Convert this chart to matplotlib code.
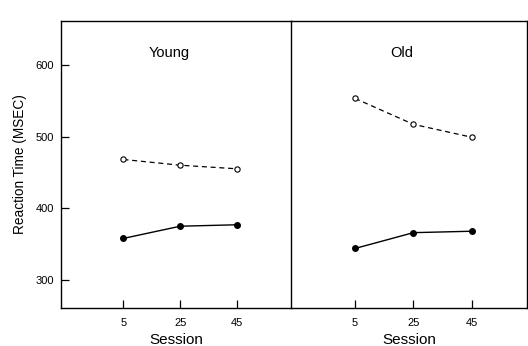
import matplotlib
matplotlib.use('Agg')
import matplotlib.pyplot as plt

plt.rcParams['font.family'] = ['Liberation Sans', 'DejaVu Sans']

sessions = [5, 25, 45]
young_solid = [358, 375, 377]
young_dashed = [468, 460, 455]
old_solid = [344, 366, 368]
old_dashed = [553, 517, 499]

fig = plt.figure(figsize=(5.28, 3.46), dpi=100)
ax1 = fig.add_axes([61/528, 1 - 308/346, 230/528, 287/346])
ax2 = fig.add_axes([291/528, 1 - 308/346, 236/528, 287/346], sharey=ax1)
ax2.patch.set_visible(False)

panels = [(ax1, 'Young', young_solid, young_dashed),
          (ax2, 'Old', old_solid, old_dashed)]

for ax, name, solid, dashed in panels:
    ax.plot(sessions, solid, color='black', lw=1.0, marker='o', ms=4,
            mfc='black', mec='black')
    ax.plot(sessions, dashed, color='black', lw=0.9, ls=(0, (4, 3)), marker='o',
            ms=3.8, mfc='white', mec='black', mew=0.8)
    ax.set_xlim(-17, 64)
    ax.set_xticks(sessions)
    ax.set_xticklabels(['5', '25', '45'])
    ax.tick_params(axis='x', direction='in', length=6, width=0.9, pad=7, labelsize=8)
    ax.set_xlabel('Session', fontsize=11, labelpad=4)
    ax.text(0.47, 0.89, name, transform=ax.transAxes, ha='center', va='center',
            fontsize=10.5)
    for s in ax.spines.values():
        s.set_linewidth(1.0)

ax1.set_ylim(261, 661)
ax1.set_yticks([300, 400, 500, 600])
ax1.tick_params(axis='y', direction='in', length=6, width=0.9, pad=5, labelsize=8)
ax1.set_ylabel('Reaction Time (MSEC)', fontsize=9.8, labelpad=6)
ax2.tick_params(axis='y', left=False, labelleft=False)
ax2.spines['left'].set_visible(False)

fig.savefig('out.png', dpi=100)
